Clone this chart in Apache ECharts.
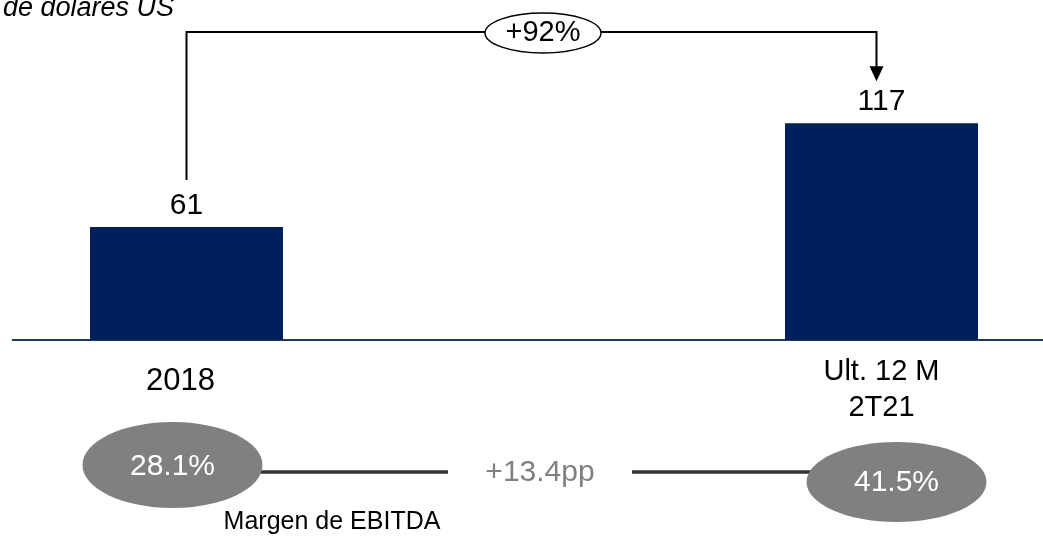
<!DOCTYPE html>
<html>
<head>
<meta charset="utf-8">
<script src="https://cdn.jsdelivr.net/npm/echarts@6/dist/echarts.min.js"></script>
<style>
html,body{margin:0;padding:0;background:#fff;}
#c{width:1043px;height:537px;}
</style>
</head>
<body>
<div id="c"></div>
<script>
// ---- data ----
var categories = ['2018', '', 'Ult. 12 M\n2T21'];
var ebitda = [61, null, 117];
var growthLabel = '+92%';
var margins = ['28.1%', '41.5%'];
var marginDelta = '+13.4pp';
var marginTitle = 'Margen de EBITDA';
var unitNote = 'de dólares US';

var FONT = '"Liberation Sans", Arial, sans-serif';
var chart = echarts.init(document.getElementById('c'));

chart.setOption({
  animation: false,
  backgroundColor: '#fff',
  grid: { left: 12.75, width: 1042.5, top: 62, height: 278, containLabel: false, outerBoundsMode: 'none' },
  xAxis: {
    type: 'category',
    data: categories,
    axisLine: { show: true, lineStyle: { color: '#1F3864', width: 2 } },
    axisTick: { show: false },
    axisLabel: {
      interval: 0,
      color: '#000',
      fontFamily: FONT,
      fontSize: 29,
      lineHeight: 36,
      margin: 14,
      formatter: function (v, i) {
        if (i === 0) return '{a|' + v + '}';
        return v;
      },
      rich: { a: { fontSize: 31, fontFamily: FONT, color: '#000', padding: [18, 12, 0, 0] } }
    }
  },
  yAxis: {
    type: 'value', min: 0, max: 150, show: false, splitLine: { show: false }
  },
  series: [{
    type: 'bar',
    data: ebitda,
    barWidth: 193,
    itemStyle: { color: '#00205B' },
    label: {
      show: true, position: 'top', distance: 6,
      color: '#000', fontFamily: FONT, fontSize: 30
    }
  }]
});

function px(i, v) { return chart.convertToPixel({ xAxisIndex: 0, yAxisIndex: 0 }, [i, v]); }
var p0 = px(0, ebitda[0]);
var p2 = px(2, ebitda[2]);
var topY = 32;
var lx = p0[0];
var rx = p2[0] - 5;
var midX = 543;

var g = [];
// unit note
g.push({ type: 'text', left: 3, top: -5, style: { text: unitNote, font: 'italic 27px ' + FONT, fill: '#000' } });
// bracket
g.push({ type: 'polyline', shape: { points: [[lx, p0[1] - 47], [lx, topY], [rx, topY], [rx, p2[1] - 55]] },
  style: { stroke: '#000', lineWidth: 2, fill: null } });
g.push({ type: 'polygon', shape: { points: [[rx - 7, p2[1] - 57], [rx + 7, p2[1] - 57], [rx, p2[1] - 42]] },
  style: { fill: '#000' } });
g.push({ type: 'ellipse', shape: { cx: midX, cy: topY + 1, rx: 58, ry: 20 },
  style: { fill: '#fff', stroke: '#000', lineWidth: 1.5 }, z: 10 });
g.push({ type: 'text', x: midX, y: topY + 1, z: 11,
  style: { text: growthLabel, font: '29px ' + FONT, fill: '#000', textAlign: 'center', textVerticalAlign: 'middle' } });

// margins
var e1 = { cx: p0[0] - 14, cy: 465, rx: 90, ry: 43 };
var e2 = { cx: p2[0] + 15, cy: 482, rx: 90, ry: 40 };
g.push({ type: 'line', shape: { x1: e1.cx + 88, y1: 472, x2: 448, y2: 472 }, style: { stroke: '#333', lineWidth: 3.5 } });
g.push({ type: 'line', shape: { x1: 632, y1: 472, x2: e2.cx - 85, y2: 472 }, style: { stroke: '#333', lineWidth: 3.5 } });
g.push({ type: 'ellipse', shape: e1, style: { fill: '#808080' }, z: 5 });
g.push({ type: 'ellipse', shape: e2, style: { fill: '#808080' }, z: 5 });
g.push({ type: 'text', x: e1.cx, y: e1.cy + 2, z: 6,
  style: { text: margins[0], font: '30px ' + FONT, fill: '#fff', textAlign: 'center', textVerticalAlign: 'middle' } });
g.push({ type: 'text', x: e2.cx, y: e2.cy + 1, z: 6,
  style: { text: margins[1], font: '30px ' + FONT, fill: '#fff', textAlign: 'center', textVerticalAlign: 'middle' } });
g.push({ type: 'text', x: 540, y: 473,
  style: { text: marginDelta, font: '30px ' + FONT, fill: '#808080', textAlign: 'center', textVerticalAlign: 'middle' } });
g.push({ type: 'text', x: 332, y: 522,
  style: { text: marginTitle, font: '25px ' + FONT, fill: '#000', textAlign: 'center', textVerticalAlign: 'middle' } });

chart.setOption({ graphic: { elements: g } });
</script>
</body>
</html>
